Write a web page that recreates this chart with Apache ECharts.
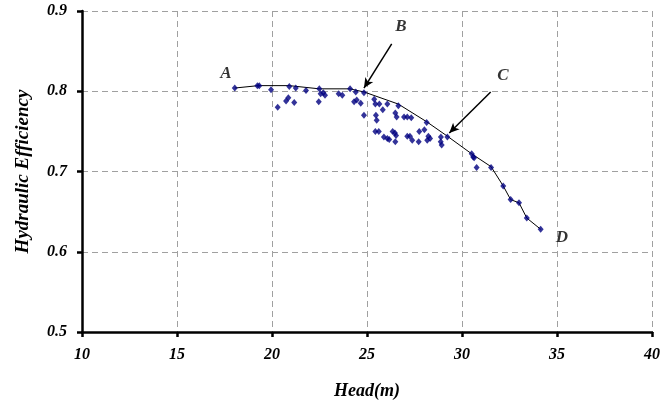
<!DOCTYPE html>
<html><head><meta charset="utf-8">
<script src="https://cdn.jsdelivr.net/npm/echarts@6/dist/echarts.min.js"></script>
<style>html,body{margin:0;padding:0;background:#fff}#c{width:672px;height:407px}</style>
</head><body><div id="c"></div>
<script>
// Measured data (head in m, hydraulic efficiency)
const headPts = [18.04,19.23,19.33,19.95,20.91,21.25,21.79,22.49,22.56,22.70,22.79,23.51,23.70,24.11,24.41,24.84,
  20.30,20.74,20.86,21.17,22.46,24.32,24.46,24.67,24.84,25.38,25.44,25.65,25.83,26.07,25.47,25.51,26.65,26.49,26.56,
  26.95,27.12,27.33,28.14,28.02,27.75,25.44,25.62,25.89,26.07,26.17,26.35,26.47,26.53,26.49,27.12,27.26,27.38,27.72,
  28.23,28.32,28.17,28.89,28.88,28.93,29.23,30.51,30.59,30.64,30.77,31.53,32.17,32.56,33.00,33.41,34.14];
const effPts = [0.804,0.807,0.807,0.802,0.806,0.804,0.801,0.803,0.797,0.798,0.795,0.797,0.795,0.803,0.799,0.798,
  0.780,0.788,0.792,0.786,0.787,0.787,0.789,0.785,0.770,0.790,0.784,0.784,0.777,0.784,0.770,0.764,0.782,0.773,0.768,
  0.768,0.768,0.767,0.761,0.752,0.750,0.750,0.750,0.743,0.741,0.740,0.750,0.748,0.745,0.737,0.744,0.744,0.739,0.737,
  0.744,0.741,0.739,0.743,0.737,0.733,0.743,0.722,0.718,0.717,0.705,0.705,0.682,0.665,0.661,0.642,0.628];
// Upper envelope line
const headLine = [18.04,19.28,20.91,22.49,24.10,24.86,26.65,28.14,29.23,30.51,31.53,32.17,32.56,33.00,33.41,34.14];
const effLine  = [0.804,0.807,0.807,0.803,0.803,0.799,0.784,0.762,0.744,0.722,0.706,0.682,0.665,0.661,0.642,0.628];
// Annotations
const labelNames = ['A','B','C','D'];
const labelHead = [17.58,26.79,32.16,35.26];
const labelEff  = [0.8215,0.880,0.819,0.618];
const arrowFrom = [[26.3,0.859],[31.51,0.799]];
const arrowTo   = [[24.84,0.804],[29.33,0.748]];
const xTicks = [10,15,20,25,30,35,40];
const yTicks = [0.5,0.6,0.7,0.8,0.9];

const font = 'Liberation Serif';
const chart = echarts.init(document.getElementById('c'), null, {renderer:'canvas'});
const lab = {fontFamily:font, fontStyle:'italic', fontWeight:'bold', fontSize:16, color:'#000'};
chart.setOption({
  animation:false,
  backgroundColor:'#fff',
  grid:{left:82,right:20,top:11,bottom:75},
  xAxis:{type:'value',min:xTicks[0],max:xTicks[xTicks.length-1],interval:5,
    name:'Head(m)',nameLocation:'middle',nameGap:50,
    nameTextStyle:Object.assign({},lab,{fontSize:18}),
    axisLine:{lineStyle:{color:'#000',width:2.5}},
    axisTick:{show:true,length:5,lineStyle:{color:'#000',width:2.5}},
    axisLabel:Object.assign({margin:15},lab),
    splitLine:{show:true,lineStyle:{color:'#a0a0a0',type:[6,4],width:1}}},
  yAxis:{type:'value',min:yTicks[0],max:yTicks[yTicks.length-1],interval:0.1,
    name:'Hydraulic Efficiency',nameLocation:'middle',nameGap:49,
    nameTextStyle:Object.assign({},lab,{fontSize:19}),
    axisLine:{show:true,lineStyle:{color:'#000',width:2.5}},
    axisTick:{show:true,length:5,lineStyle:{color:'#000',width:2.5}},
    axisLabel:Object.assign({margin:15,formatter:v=>v.toFixed(1)},lab),
    splitLine:{show:true,lineStyle:{color:'#a0a0a0',type:[6,4],width:1}}},
  series:[
    {type:'line',data:headLine.map((h,i)=>[h,effLine[i]]),showSymbol:false,symbol:'none',
     lineStyle:{color:'#000',width:1},z:2,
     markLine:{silent:true,symbol:['none','arrow'],symbolSize:[7,10],
       lineStyle:{color:'#000',width:1.5,type:'solid'},label:{show:false},
       data:arrowFrom.map((f,i)=>[{coord:f},{coord:arrowTo[i]}])}},
    {type:'scatter',data:headPts.map((h,i)=>[h,effPts[i]]),symbol:'diamond',symbolSize:[6,7],
     itemStyle:{color:'#000080'},z:3},
    {type:'scatter',data:labelHead.map((h,i)=>({value:[h,labelEff[i]],name:labelNames[i]})),
     symbolSize:0,z:4,
     label:{show:true,position:'inside',formatter:p=>p.name,
       fontFamily:font,fontStyle:'italic',fontWeight:'bold',fontSize:17,color:'#000'}}
  ]
});
</script></body></html>
